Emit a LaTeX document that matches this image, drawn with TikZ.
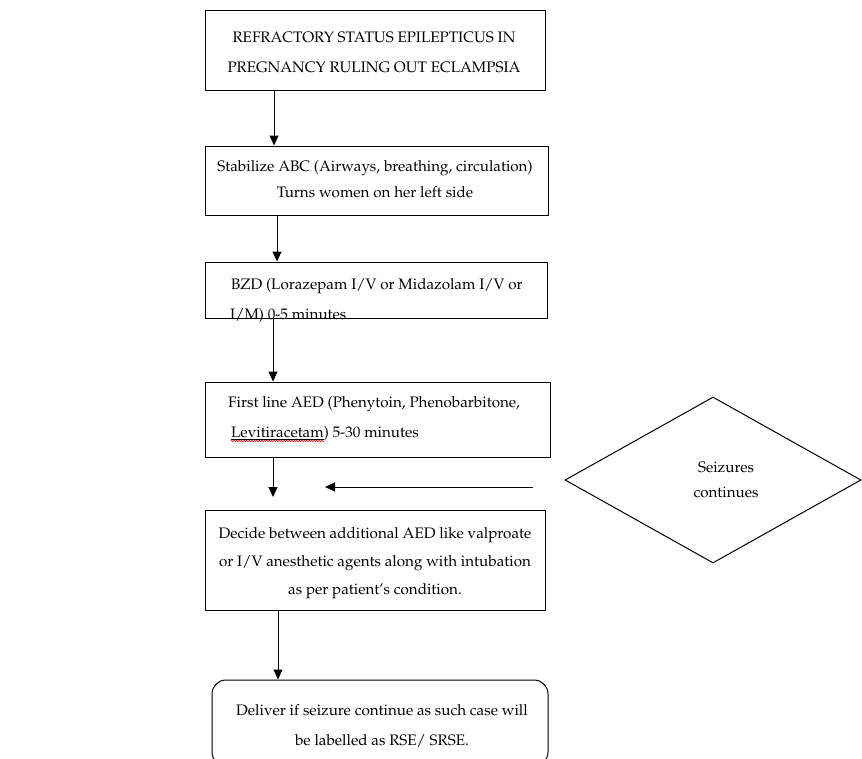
\documentclass[tikz,border=0pt]{standalone}
\usepackage[T1]{fontenc}
\usepackage{mathpazo}
\usetikzlibrary{arrows.meta,shapes.geometric,decorations.pathmorphing}
\begin{document}
\begin{tikzpicture}[x=1pt,y=-1pt,
  box/.style={draw, line width=1pt, inner sep=0pt},
  arr/.style={line width=1pt, -{Triangle[length=10pt,width=9pt]}},
  txt/.style={font=\fontsize{15.2}{18}\selectfont, inner sep=0pt, anchor=base},
  txtl/.style={txt, anchor=base west}]
\useasboundingbox[fill=white] (0,0) rectangle (862,758);
% boxes
\node[box, minimum width=340pt, minimum height=80pt] (b1) at (375,50) {};
\node[box, minimum width=343pt, minimum height=69pt] (b2) at (376.5,180.5) {};
\node[box, minimum width=342pt, minimum height=56pt] (b3) at (376,290) {};
\node[box, minimum width=345pt, minimum height=75pt] (b4) at (377.5,419.5) {};
\node[box, minimum width=340pt, minimum height=100pt] (b5) at (375,560) {};
\node[box, rounded corners=14pt, minimum width=336pt, minimum height=86pt] (b6) at (380,723) {};
\node[draw, diamond, line width=1pt, minimum width=296pt, minimum height=166pt, inner sep=0pt] (d) at (713,480) {};
% texts
\node[txt] (t1a) at (374,42) {REFRACTORY STATUS EPILEPTICUS IN};
\node[txt] (t1b) at (374,72) {PREGNANCY RULING OUT ECLAMPSIA};
\node[txt] (t2a) at (375,171) {Stabilize ABC (Airways, breathing, circulation)};
\node[txt] (t2b) at (375,197) {Turns women on her left side};
\node[txtl] (t3a) at (231,289) {BZD (Lorazepam I/V or Midazolam I/V or};
\node[txtl] (t3b) at (230,319) {I/M) 0-5 minutes};
\node[txtl] (t4a) at (228,407) {First line AED (Phenytoin, Phenobarbitone,};
\node[txtl] (t4b) at (231,437) {Levitiracetam) 5-30 minutes};
\node[txtl] (lv) at (t4b.base west) {\phantom{Levitiracetam}};
\node[txt] (t5a) at (375,538) {Decide between additional AED like valproate};
\node[txt] (t5b) at (375,566) {or I/V anesthetic agents along with intubation};
\node[txt] (t5c) at (375,594) {as per patient's condition.};
\node[txt] (t6a) at (382,715) {Deliver if seizure continue as such case will};
\node[txt] (t6b) at (382,745) {be labelled as RSE/ SRSE.};
\node[txt] (td1) at (726,472) {Seizures};
\node[txt] (td2) at (726,497) {continues};
% underline + spell squiggle
\draw[line width=0.5pt] ([yshift=-2pt]lv.base west) -- ([yshift=-2pt]lv.base east);
\draw[red, line width=0.5pt, decorate, decoration={snake, amplitude=0.8pt, segment length=2.5pt}] ([yshift=-4pt]lv.base west) -- ([yshift=-4pt]lv.base east);
% connectors
\coordinate (c1) at (274,0);
\coordinate (c2) at (277,0);
\coordinate (c3) at (273,0);
\coordinate (e4) at (273,497);
\coordinate (c5) at (278,0);
\coordinate (h1) at (533,487);
\coordinate (h2) at (325,487);
\draw[arr] (b1.south -| c1) -- (b2.north -| c1);
\draw[arr] (b2.south -| c2) -- (b3.north -| c2);
\draw[arr] (b3.south -| c3) -- (b4.north -| c3);
\draw[arr] (b4.south -| e4) -- (e4);
\draw[arr] (h1) -- (h2);
\draw[arr] (b5.south -| c5) -- (b6.north -| c5);
\end{tikzpicture}
\end{document}
